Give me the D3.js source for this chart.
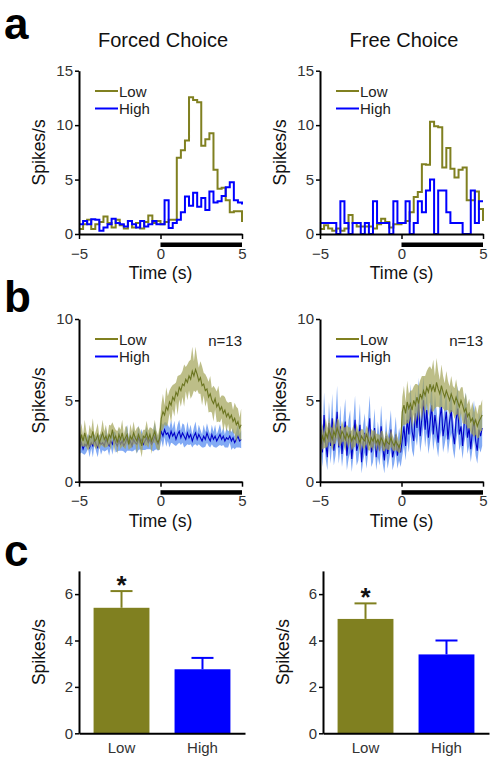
<!DOCTYPE html>
<html><head><meta charset="utf-8">
<script src="https://cdn.jsdelivr.net/npm/d3@7"></script>
<style>body{margin:0;background:#fff;} svg{display:block;}</style>
</head><body><svg id="fig" width="493" height="762"></svg>
<script>
// ---------- DATA ----------
const titles = ["Forced Choice", "Free Choice"];
const seriesNames = ["Low", "High"];
// Panel a: PSTH, 0.25 s bins, edges from -5 to 5 (41 values, step-after)
const psthEdges = d3.range(41).map(i => -5 + i * 0.25);
const forcedLow = [0.45,0.9,1.3,0.45,0.9,1.1,1.6,1.0,0.6,1.3,0.8,0.5,1.2,0.6,1.0,0.5,1.1,1.7,1.0,1.2,
  0.9,1.1,1.3,1.3,7.0,7.7,8.6,12.55,12.3,12.1,8.1,8.7,9.25,5.9,4.15,4.25,3.1,2.0,2.1,2.1,1.1];
const forcedHigh = [0.9,1.2,0.9,1.35,1.3,0.3,0.6,0.9,1.4,1.0,0.9,0.7,1.2,0.9,0.6,1.2,0.7,0.9,1.2,0.9,
  0.9,3.1,0.55,1.0,1.3,2.0,3.45,2.6,3.8,2.5,3.3,2.2,3.9,2.9,3.0,3.5,4.3,4.75,3.1,2.9,2.7];
const freeLow = [0.45,0.8,0.5,0.3,0.5,0.3,0.5,1.75,1.0,0.7,0.7,0.7,0.7,0.5,0.9,1.4,1.1,0.6,0.9,0.9,
  1.0,1.2,2.0,3.4,3.85,6.4,6.35,10.3,9.9,9.8,6.1,7.9,6.0,5.2,5.9,6.1,3.1,3.1,3.9,2.3,1.2];
const freeHigh = [1,1,1,1,0,3,1,0,1,1,0,1,0,3,1,1,1,0,3,1,
  1,3,0,1,3,2,4,5,0,4,4,2,1,1,1,0,0,4,1,3,3];
const psthTicksY = [0, 5, 10, 15];
const timeTicks = [-5, 0, 5];

// Panel b: population mean ± SEM, 0.1 s bins
const traceTimes = d3.range(100).map(i => -4.95 + i * 0.1);
const forcedLowMean = [2.4,2.9,2.5,3.0,2.6,2.3,2.8,2.7,3.1,2.5,2.6,2.9,2.4,2.7,3.0,2.6,2.8,2.5,2.9,2.7,3.2,2.6,2.8,2.4,2.9,2.6,3.0,2.5,2.7,2.9,2.3,2.8,2.6,3.0,2.7,2.5,2.9,2.6,2.2,2.8,2.7,3.0,2.6,2.9,2.5,2.8,3.1,2.6,2.4,2.7,
  3.9,4.3,4.1,4.6,4.4,4.9,4.7,5.2,5.0,5.5,5.3,5.8,5.6,6.0,5.9,6.3,6.1,6.5,6.3,6.8,6.5,6.9,6.6,6.2,6.4,5.9,6.0,5.6,5.7,5.2,5.4,5.0,4.8,5.1,4.6,4.8,4.4,4.6,4.2,4.4,4.0,4.2,3.9,4.1,3.7,3.9,3.5,3.7,3.3,3.5];
const forcedLowSem = [0.5,0.7,0.35,0.8,0.5,0.4,0.7,0.45,0.8,0.35,0.6,0.7,0.4,0.45,0.8,0.5,0.7,0.35,0.6,0.75,0.45,0.8,0.4,0.7,0.5,0.6,0.8,0.4,0.7,0.5,0.35,0.75,0.5,0.7,0.4,0.8,0.5,0.6,0.7,0.4,0.5,0.75,0.55,0.45,0.8,0.4,0.7,0.55,0.45,0.75,
  0.8,1.1,0.6,1.2,0.85,0.7,1.1,0.75,1.0,0.6,1.2,0.75,1.0,0.8,1.3,0.75,1.1,0.9,1.2,1.5,0.9,1.4,0.95,0.8,1.0,1.2,0.7,1.0,0.7,0.95,1.1,0.75,1.1,0.65,0.95,1.1,0.75,0.7,1.1,0.8,0.95,0.65,1.0,0.8,0.7,0.95,1.1,0.8,0.65,1.0];
const forcedHighMean = [2.1,2.4,2.0,2.3,2.2,2.5,2.1,2.4,2.2,2.6,2.3,2.1,2.5,2.3,2.4,2.2,2.6,2.4,2.2,2.5,2.3,2.7,2.4,2.2,2.6,2.3,2.5,2.2,2.4,2.7,2.3,2.5,2.2,2.6,2.4,2.3,2.7,2.4,2.6,2.3,2.5,2.7,2.4,2.6,2.3,2.5,2.8,2.5,2.3,2.6,
  3.1,2.8,3.2,2.9,3.0,2.7,3.1,2.8,3.0,2.6,2.9,3.1,2.7,3.0,2.8,2.6,3.0,2.7,2.9,2.5,2.8,3.0,2.6,2.9,2.7,2.5,2.8,2.6,3.0,2.7,2.5,2.9,2.6,2.8,2.5,2.7,2.9,2.6,2.8,2.5,2.7,2.6,2.8,2.5,2.7,2.4,2.6,2.8,2.5,2.6];
const forcedHighSem = [0.4,0.6,0.3,0.65,0.4,0.45,0.6,0.35,0.7,0.3,0.45,0.6,0.35,0.65,0.45,0.35,0.7,0.4,0.6,0.35,0.65,0.4,0.6,0.35,0.7,0.4,0.6,0.35,0.65,0.8,0.4,0.6,0.35,0.7,0.4,0.55,0.75,0.4,0.65,0.35,0.55,0.7,0.4,0.6,0.35,0.65,0.85,0.5,0.4,0.6,
  0.55,0.7,0.45,0.75,0.5,0.6,0.7,0.45,0.75,0.4,0.6,0.7,0.45,0.6,0.7,0.4,0.7,0.45,0.6,0.4,0.55,0.7,0.4,0.6,0.5,0.4,0.7,0.45,0.6,0.5,0.4,0.6,0.45,0.7,0.4,0.5,0.65,0.4,0.55,0.4,0.6,0.5,0.4,0.55,0.6,0.4,0.5,0.7,0.4,0.55];
const freeLowMean = [2.3,2.8,2.5,3.0,2.7,3.2,2.9,2.6,3.1,2.8,3.3,3.0,2.7,3.1,2.9,2.6,3.0,2.7,2.9,2.5,2.8,2.6,3.0,2.7,2.4,2.8,2.6,2.5,2.9,2.6,2.3,2.7,2.5,2.8,2.4,2.6,2.3,2.7,2.5,2.2,2.6,2.4,2.3,2.7,2.4,2.2,2.5,2.3,2.1,2.4,
  4.3,4.7,4.2,4.9,4.5,4.8,4.4,5.0,4.7,5.2,4.8,5.4,5.1,5.6,5.3,5.8,5.5,6.0,5.6,5.9,5.5,6.1,5.7,5.4,5.9,5.5,5.2,5.6,5.3,5.0,5.4,5.1,4.8,5.2,4.9,4.6,5.0,4.7,4.3,4.5,4.0,4.2,3.7,3.9,3.5,3.8,3.4,3.7,3.9,4.1];
const freeLowSem = [0.6,0.8,0.45,0.9,0.6,0.75,0.5,0.7,0.8,0.45,0.6,0.8,0.5,0.65,0.45,0.75,0.5,0.65,0.45,0.6,0.7,0.45,0.6,0.4,0.7,0.45,0.6,0.4,0.55,0.65,0.4,0.55,0.6,0.4,0.55,0.35,0.55,0.45,0.6,0.35,0.55,0.45,0.35,0.55,0.45,0.35,0.55,0.45,0.35,0.55,
  0.9,1.2,0.7,1.3,0.9,0.8,1.2,0.85,1.3,0.8,1.1,0.85,1.4,0.9,1.2,1.0,1.5,1.1,1.3,1.6,1.0,1.5,1.1,0.85,1.3,1.0,0.85,1.2,0.9,0.85,1.1,0.8,0.95,1.1,0.75,0.95,0.8,1.1,0.75,0.95,0.75,0.9,0.7,1.0,0.75,0.9,0.75,1.0,0.8,0.95];
const freeHighMean = [3.2,1.8,4.1,2.4,1.5,3.6,2.2,3.9,1.9,2.8,4.3,2.1,3.4,1.7,2.9,3.7,1.6,2.6,3.1,1.4,2.7,3.8,1.9,2.3,3.5,1.2,2.4,3.0,1.6,2.8,3.9,1.8,2.2,3.3,1.5,2.6,1.9,3.4,2.1,1.3,2.8,1.7,2.4,3.2,1.5,2.0,2.9,1.6,2.3,1.8,
  2.6,3.4,2.2,3.8,2.9,4.5,3.1,2.5,4.2,3.3,4.8,2.8,3.9,5.0,3.2,4.4,2.7,3.6,4.7,2.9,4.1,3.3,2.4,3.9,4.6,2.8,3.5,4.3,2.6,3.7,4.4,3.0,2.3,3.8,4.5,2.9,3.4,2.2,3.6,4.2,2.7,3.3,2.0,3.1,3.8,2.5,1.9,3.2,2.8,3.3];
const freeHighSem = [1.2,0.9,1.4,1.0,0.8,1.3,1.1,1.5,0.9,1.2,1.6,1.0,1.3,0.8,1.1,1.4,0.9,1.2,1.3,0.8,1.1,1.5,0.9,1.0,1.3,0.7,1.1,1.2,0.8,1.1,1.4,0.9,1.0,1.2,0.8,1.1,0.9,1.3,1.0,0.8,1.1,0.9,1.0,1.2,0.8,0.9,1.1,0.8,1.0,0.9,
  1.0,1.2,0.9,1.3,1.1,1.5,1.2,1.0,1.4,1.1,1.6,1.0,1.3,1.5,1.1,1.4,1.0,1.2,1.5,1.0,1.3,1.1,0.9,1.3,1.4,1.0,1.2,1.4,0.9,1.2,1.4,1.0,0.9,1.3,1.4,1.0,1.1,0.8,1.2,1.3,1.0,1.1,0.8,1.1,1.2,0.9,0.8,1.1,1.0,1.1];
const traceTicksY = [0, 5, 10];
const nLabel = "n=13";

// Panel c: bar means and SEM
const barCategories = ["Low", "High"];
const forcedBarMean = [5.41, 2.76];
const forcedBarSem = [0.72, 0.49];
const freeBarMean = [4.93, 3.40];
const freeBarSem = [0.67, 0.60];
const barTicksY = [0, 2, 4, 6];
const sigMarks = ["*", ""];

// ---------- STYLE ----------
const FONT = '"Liberation Sans", Arial, Helvetica, sans-serif';
const OLIVE = "#808020", BLUE = "#0000ff";
const OLIVE_LINE = "#6b7520", BLUE_LINE = "#0000c8";
const OLIVE_BAND = "#a3a55a", BLUE_BAND = "#82aaf4";

const svg = d3.select("#fig").style("font-family", FONT);

function styleAxis(g) {
  g.select(".domain").attr("stroke", "#000").attr("stroke-width", 2);
  g.selectAll(".tick line").attr("stroke", "#000").attr("stroke-width", 1.5);
  g.selectAll(".tick text").attr("fill", "#333").style("font-size", "15px").style("font-family", FONT);
}

function timeFrame(x0, yTop, yBot, yMax, yTicks) {
  const x = d3.scaleLinear().domain([-5, 5]).range([x0, x0 + 163]);
  const y = d3.scaleLinear().domain([0, yMax]).range([yBot, yTop]);
  const g = svg.append("g");
  const layer = g.append("g");
  g.append("g").attr("transform", `translate(${x0},0)`)
    .call(d3.axisLeft(y).tickValues(yTicks).tickSize(4).tickSizeOuter(0).tickPadding(2).tickFormat(d3.format("d")))
    .call(styleAxis);
  g.append("g").attr("transform", `translate(0,${yBot})`)
    .call(d3.axisBottom(x).tickValues(timeTicks).tickSize(5).tickSizeOuter(0).tickPadding(9).tickFormat(d3.format("d")))
    .call(styleAxis);
  // stimulus bar
  g.append("rect").attr("x", x(0)).attr("width", x(5) - x(0))
    .attr("y", yBot + 8.5).attr("height", 4.5).attr("fill", "#000");
  g.append("text").attr("x", (x(-5) + x(5)) / 2).attr("y", yBot + 45)
    .attr("text-anchor", "middle").style("font-size", "17.5px").attr("fill", "#111").text("Time (s)");
  g.append("text").attr("transform", `translate(${x0 - 34},${(yTop + yBot) / 2}) rotate(-90)`)
    .attr("text-anchor", "middle").style("font-size", "17.5px").attr("fill", "#111").text("Spikes/s");
  return { g, layer, x, y };
}

function legend(g, x0, yLow, colors) {
  seriesNames.forEach((name, i) => {
    const yy = yLow + i * 17.5;
    g.append("line").attr("x1", x0 + 16).attr("x2", x0 + 39).attr("y1", yy).attr("y2", yy)
      .attr("stroke", colors[i]).attr("stroke-width", 2);
    g.append("text").attr("x", x0 + 40).attr("y", yy + 5.5).style("font-size", "15px")
      .attr("fill", "#222").text(name);
  });
}

// ---------- Panel letters & titles ----------
[["a", 39], ["b", 312], ["c", 566]].forEach(([t, y]) => {
  svg.append("text").attr("x", 4).attr("y", y).style("font-size", "44px").style("font-weight", "bold")
    .attr("fill", "#000").text(t);
});
const leftX = [79, 320];
titles.forEach((t, i) => {
  svg.append("text").attr("x", leftX[i] + 84).attr("y", 47).attr("text-anchor", "middle")
    .style("font-size", "20px").attr("fill", "#111").text(t);
});

// ---------- Panel a ----------
const psthSets = [[forcedLow, forcedHigh], [freeLow, freeHigh]];
psthSets.forEach((set, i) => {
  const { g, layer, x, y } = timeFrame(leftX[i], 70.7, 234, 15, psthTicksY);
  const line = d3.line().x((d, k) => x(psthEdges[k])).y(d => y(d)).curve(d3.curveStepAfter);
  [OLIVE, BLUE].forEach((c, s) => {
    layer.append("path").datum(set[s]).attr("d", line).attr("fill", "none")
      .attr("stroke", c).attr("stroke-width", 2);
  });
  legend(g, leftX[i], 91, [OLIVE, BLUE]);
});

// ---------- Panel b ----------
const traceSets = [
  [[forcedLowMean, forcedLowSem], [forcedHighMean, forcedHighSem]],
  [[freeLowMean, freeLowSem], [freeHighMean, freeHighSem]]
];
traceSets.forEach((set, i) => {
  const { g, layer, x, y } = timeFrame(leftX[i], 319, 481.7, 10, traceTicksY);
  const area = (m, s) => d3.area().x((d, k) => x(traceTimes[k])).y0((d, k) => y(m[k] - s[k])).y1((d, k) => y(m[k] + s[k]));
  const mline = d3.line().x((d, k) => x(traceTimes[k])).y(d => y(d));
  const [low, high] = set;
  layer.append("path").datum(high[0]).attr("d", area(high[0], high[1])).attr("fill", BLUE_BAND);
  layer.append("path").datum(high[0]).attr("d", mline).attr("fill", "none").attr("stroke", BLUE_LINE).attr("stroke-width", 1.1);
  layer.append("path").datum(low[0]).attr("d", area(low[0], low[1])).attr("fill", OLIVE_BAND).attr("opacity", 0.72);
  layer.append("path").datum(low[0]).attr("d", mline).attr("fill", "none").attr("stroke", OLIVE_LINE).attr("stroke-width", 1.1);
  legend(g, leftX[i], 339, [OLIVE, BLUE]);
  g.append("text").attr("x", leftX[i] + 163).attr("y", 346).attr("text-anchor", "end")
    .style("font-size", "15px").attr("fill", "#222").text(nLabel);
});

// ---------- Panel c ----------
const barSets = [[forcedBarMean, forcedBarSem], [freeBarMean, freeBarSem]];
const barLeft = [79, 323];
barSets.forEach(([mean, sem], i) => {
  const x = d3.scaleBand().domain(barCategories).range([barLeft[i], barLeft[i] + 166])
    .paddingInner(0.31).paddingOuter(0.18);
  const y = d3.scaleLinear().domain([0, 7]).range([733.3, 570.9]);
  const g = svg.append("g");
  const colors = [OLIVE, BLUE];
  barCategories.forEach((c, k) => {
    const cx = x(c) + x.bandwidth() / 2;
    const top = y(mean[k] + sem[k]);
    g.append("line").attr("x1", cx).attr("x2", cx).attr("y1", y(mean[k])).attr("y2", top)
      .attr("stroke", colors[k]).attr("stroke-width", 2);
    g.append("line").attr("x1", cx - 11).attr("x2", cx + 11).attr("y1", top).attr("y2", top)
      .attr("stroke", colors[k]).attr("stroke-width", 2);
    g.append("rect").attr("x", x(c)).attr("width", x.bandwidth())
      .attr("y", y(mean[k])).attr("height", y(0) - y(mean[k])).attr("fill", colors[k]);
    if (sigMarks[k]) {
      g.append("text").attr("x", cx).attr("y", top + 3).attr("text-anchor", "middle")
        .style("font-size", "26px").style("font-weight", "bold").attr("fill", "#111").text(sigMarks[k]);
    }
  });
  g.append("g").attr("transform", `translate(${barLeft[i]},0)`)
    .call(d3.axisLeft(y).tickValues(barTicksY).tickSize(4).tickSizeOuter(0).tickPadding(2).tickFormat(d3.format("d")))
    .call(styleAxis);
  g.append("g").attr("transform", `translate(0,${y(0)})`)
    .call(d3.axisBottom(x).tickSize(0).tickSizeOuter(0).tickPadding(9))
    .call(styleAxis);
  g.append("text").attr("transform", `translate(${barLeft[i] - 34},652) rotate(-90)`)
    .attr("text-anchor", "middle").style("font-size", "17.5px").attr("fill", "#111").text("Spikes/s");
});
</script>
</body></html>
